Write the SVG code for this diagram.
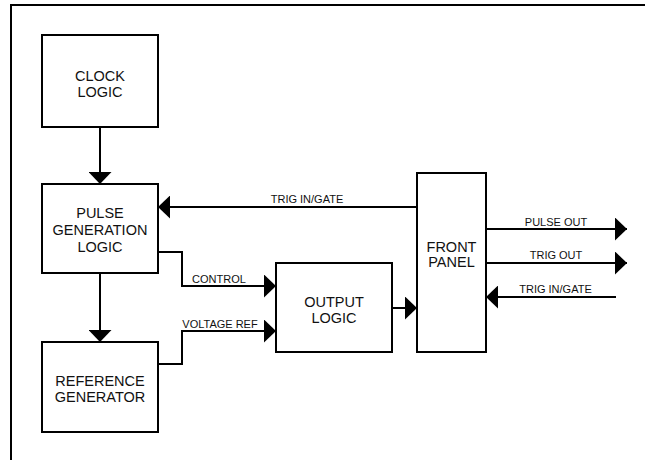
<svg xmlns="http://www.w3.org/2000/svg" width="645" height="460" viewBox="0 0 645 460">
<style>
.box{fill:#fff;stroke:#000;stroke-width:2}
.ln{fill:none;stroke:#000;stroke-width:2}
.big{font-family:"Liberation Sans",Arial,sans-serif;font-size:14.5px;text-anchor:middle;fill:#111}
.sm{font-family:"Liberation Sans",Arial,sans-serif;font-size:11px;text-anchor:middle;fill:#111}
</style>
<defs>
<marker id="ah" viewBox="0 0 12 23" refX="12" refY="11.5" markerWidth="12" markerHeight="23" markerUnits="userSpaceOnUse" orient="auto">
<path d="M0,0 L12,11.5 L0,23 z" fill="#000"/>
</marker>
</defs>
<rect width="645" height="460" fill="#fff"/>
<path class="ln" d="M11,460 V5 H645"/>
<g id="connectors">
<path class="ln" d="M100,127 V184" marker-end="url(#ah)"/>
<path class="ln" d="M100,273 V342" marker-end="url(#ah)"/>
<path class="ln" d="M417,207 H158" marker-end="url(#ah)"/>
<path class="ln" d="M158,252 H182 V286 H276" marker-end="url(#ah)"/>
<path class="ln" d="M158,364 H182 V331 H276" marker-end="url(#ah)"/>
<path class="ln" d="M392,308 H417" marker-end="url(#ah)"/>
<path class="ln" d="M486,229 H627" marker-end="url(#ah)"/>
<path class="ln" d="M486,263 H627" marker-end="url(#ah)"/>
<path class="ln" d="M616,297 H486" marker-end="url(#ah)"/>
<text class="sm" x="307" y="203">TRIG IN/GATE</text>
<text class="sm" x="219" y="282.5">CONTROL</text>
<text class="sm" x="220" y="327.5">VOLTAGE REF</text>
<text class="sm" x="556" y="226">PULSE OUT</text>
<text class="sm" x="556" y="259">TRIG OUT</text>
<text class="sm" x="555.5" y="293">TRIG IN/GATE</text>
</g>
<g id="clock">
<rect class="box" x="42" y="35" width="116" height="92"/>
<text class="big" x="100" y="81">CLOCK</text>
<text class="big" x="100" y="97">LOGIC</text>
</g>
<g id="pulse">
<rect class="box" x="42" y="184" width="116" height="89"/>
<text class="big" x="100" y="218">PULSE</text>
<text class="big" x="100" y="235">GENERATION</text>
<text class="big" x="100" y="252">LOGIC</text>
</g>
<g id="reference">
<rect class="box" x="42" y="342" width="116" height="90"/>
<text class="big" x="100" y="386">REFERENCE</text>
<text class="big" x="100" y="401.5">GENERATOR</text>
</g>
<g id="output">
<rect class="box" x="276" y="263" width="116" height="89"/>
<text class="big" x="334" y="307">OUTPUT</text>
<text class="big" x="334" y="323">LOGIC</text>
</g>
<g id="front">
<rect class="box" x="417" y="173" width="69" height="179"/>
<text class="big" x="451.5" y="252">FRONT</text>
<text class="big" x="451.5" y="266.5">PANEL</text>
</g>
</svg>
